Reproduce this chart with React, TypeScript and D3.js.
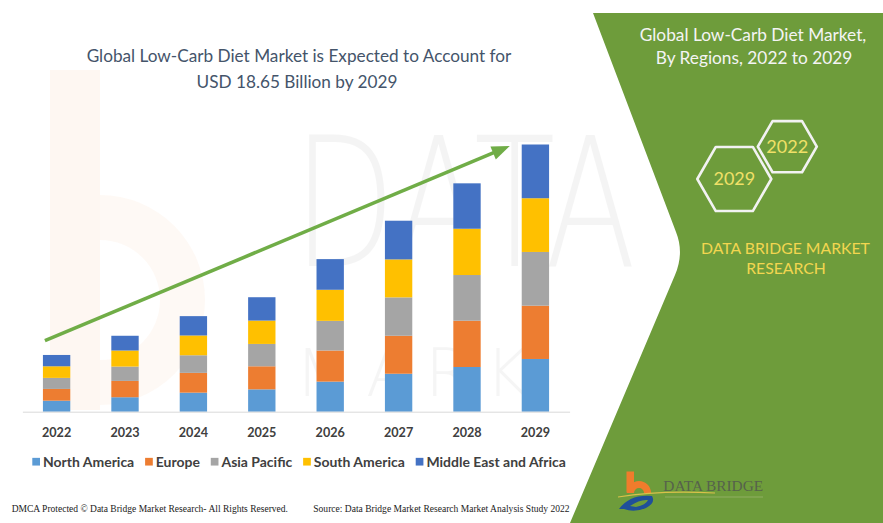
import React, { useEffect, useRef } from "react";
import * as d3 from "d3";

// values in USD billion
const years = ["2022", "2023", "2024", "2025", "2026", "2027", "2028", "2029"];
const northAmerica = [0.77, 1.01, 1.33, 1.56, 2.1, 2.65, 3.12, 3.68];
const europe = [0.82, 1.14, 1.38, 1.61, 2.17, 2.65, 3.23, 3.72];
const asiaPacific = [0.77, 1.0, 1.23, 1.56, 2.07, 2.68, 3.19, 3.75];
const southAmerica = [0.81, 1.12, 1.38, 1.63, 2.17, 2.65, 3.23, 3.75];
const middleEastAfrica = [0.79, 1.03, 1.35, 1.63, 2.14, 2.7, 3.17, 3.75];
const seriesNames = [
  "North America",
  "Europe",
  "Asia Pacific",
  "South America",
  "Middle East and Africa",
];
const seriesColors = ["#5b9bd5", "#ed7d31", "#a5a5a5", "#ffc000", "#4472c4"];
const hexLabels = ["2029", "2022"];

const W = 883;
const H = 523;

const App: React.FC = () => {
  const ref = useRef<SVGSVGElement | null>(null);

  useEffect(() => {
    if (!ref.current) return;
    const svg = d3.select(ref.current);
    svg.selectAll("*").remove();

    const sans = "Lato, 'Open Sans', sans-serif";
    const serif = "'Liberation Serif', 'DejaVu Serif', serif";

    // shrink / grow a text so it spans the given width
    const fit = (t: any, w: number) => {
      const len = (t.node() as SVGTextElement).getComputedTextLength();
      const fs = +t.attr("font-size");
      if (len > 0) t.attr("font-size", (fs * w) / len);
      return t;
    };

    svg.append("rect").attr("width", W).attr("height", H).attr("fill", "#fff");

    // faint watermark
    const wm = svg.append("g").attr("pointer-events", "none");
    wm.append("rect")
      .attr("x", 50)
      .attr("y", 70)
      .attr("width", 50)
      .attr("height", 340)
      .attr("fill", "#f4b183")
      .attr("opacity", 0.1);
    wm.append("path")
      .attr(
        "d",
        d3.arc()({
          innerRadius: 60,
          outerRadius: 105,
          startAngle: 0,
          endAngle: Math.PI,
        } as any) as string
      )
      .attr("transform", "translate(100,300)")
      .attr("fill", "#f4b183")
      .attr("opacity", 0.08);
    wm.append("text")
      .attr("transform", "translate(293,266) scale(0.74,1)")
      .attr("font-family", "'DejaVu Sans', sans-serif")
      .attr("font-weight", 200)
      .attr("font-size", 180)
      .attr("fill", "#000")
      .attr("opacity", 0.04)
      .text("DATA");
    wm.append("text")
      .attr("x", 295)
      .attr("y", 396)
      .attr("font-family", "'DejaVu Sans', sans-serif")
      .attr("font-weight", 200)
      .attr("font-size", 66)
      .attr("letter-spacing", 14)
      .attr("fill", "#000")
      .attr("opacity", 0.035)
      .text("MARK");

    // green panel on the right
    svg
      .append("path")
      .attr(
        "d",
        "M593,13 L883,13 L883,523 L570,523 L675,275 Q684.4,253 676,232 Z"
      )
      .attr("fill", "#6e9c3b");

    // scales
    const rows = years.map((yr, i) => ({
      year: yr,
      "North America": northAmerica[i],
      Europe: europe[i],
      "Asia Pacific": asiaPacific[i],
      "South America": southAmerica[i],
      "Middle East and Africa": middleEastAfrica[i],
    }));
    const totals = rows.map((r) =>
      d3.sum(seriesNames, (k) => (r as any)[k] as number)
    );

    const x = d3
      .scaleBand()
      .domain(years)
      .range([22.4, 569.6])
      .paddingInner(0.6)
      .paddingOuter(0.3);
    const y = d3
      .scaleLinear()
      .domain([0, d3.max(totals)!])
      .range([411.7, 144.5]);
    const color = d3.scaleOrdinal<string>().domain(seriesNames).range(seriesColors);

    const stack = d3.stack<any>().keys(seriesNames)(rows);

    // bars
    svg
      .append("g")
      .selectAll("g")
      .data(stack)
      .join("g")
      .attr("fill", (d) => color(d.key))
      .selectAll("rect")
      .data((d) => d)
      .join("rect")
      .attr("x", (d) => x(d.data.year)!)
      .attr("y", (d) => y(d[1]))
      .attr("width", x.bandwidth())
      .attr("height", (d) => y(d[0]) - y(d[1]));

    // x axis
    const ax = svg
      .append("g")
      .attr("transform", `translate(0,${y(0)})`)
      .call(d3.axisBottom(x).tickSize(0).tickSizeOuter(0));
    ax.select(".domain").attr("stroke", "#d9d9d9");
    ax.selectAll("text")
      .attr("y", 20.6)
      .attr("dy", "0.35em")
      .attr("font-family", sans)
      .attr("font-weight", 700)
      .attr("font-size", 14)
      .attr("fill", "#404040");
    const first = ax.select("text");
    fit(first, 29.3);
    ax.selectAll("text").attr("font-size", first.attr("font-size"));

    // trend arrow
    const p0: [number, number] = [x(years[0])! + 2, y(totals[0]) - 14.3];
    const p1: [number, number] = [
      x(years[years.length - 1])! - 12,
      y(totals[totals.length - 1]) + 1.5,
    ];
    const ang = Math.atan2(p1[1] - p0[1], p1[0] - p0[0]);
    const headL = 18;
    const headW = 7;
    const base: [number, number] = [
      p1[0] - headL * Math.cos(ang),
      p1[1] - headL * Math.sin(ang),
    ];
    svg
      .append("line")
      .attr("x1", p0[0])
      .attr("y1", p0[1])
      .attr("x2", base[0] + 2 * Math.cos(ang))
      .attr("y2", base[1] + 2 * Math.sin(ang))
      .attr("stroke", "#70ad47")
      .attr("stroke-width", 3.5);
    svg
      .append("path")
      .attr(
        "d",
        `M${p1[0]},${p1[1]} L${base[0] + headW * Math.sin(ang)},${
          base[1] - headW * Math.cos(ang)
        } L${base[0] - headW * Math.sin(ang)},${base[1] + headW * Math.cos(ang)} Z`
      )
      .attr("fill", "#70ad47");

    // legend
    const lg = svg.append("g").attr("font-family", sans).attr("font-weight", 700);
    const texts = seriesNames.map((n) =>
      lg
        .append("text")
        .attr("y", 461.7)
        .attr("dy", "0.35em")
        .attr("font-size", 14)
        .attr("fill", "#404040")
        .text(n)
    );
    const lens0 = texts.map((t) => (t.node() as SVGTextElement).getComputedTextLength());
    const k = 437 / d3.sum(lens0);
    texts.forEach((t) => t.attr("font-size", 14 * k));
    const sq = 7.7;
    const sqGap = 3;
    const x0 = 32.3;
    const x1 = 566;
    const lens = lens0.map((l) => l * k);
    const gap = (x1 - x0 - d3.sum(lens) - seriesNames.length * (sq + sqGap)) / (seriesNames.length - 1);
    let cx = x0;
    seriesNames.forEach((n, i) => {
      lg.append("rect")
        .attr("x", cx)
        .attr("y", 461.7 - sq / 2)
        .attr("width", sq)
        .attr("height", sq)
        .attr("fill", color(n));
      texts[i].attr("x", cx + sq + sqGap);
      cx += sq + sqGap + lens[i] + gap;
    });

    // main title
    const t1 = svg
      .append("text")
      .attr("x", 299)
      .attr("y", 55.7)
      .attr("dy", "0.35em")
      .attr("text-anchor", "middle")
      .attr("font-family", sans)
      .attr("font-size", 18)
      .attr("fill", "#44546a")
      .text("Global Low-Carb Diet Market is Expected to Account for");
    fit(t1, 425);
    svg
      .append("text")
      .attr("x", 297)
      .attr("y", 82.3)
      .attr("dy", "0.35em")
      .attr("text-anchor", "middle")
      .attr("font-family", sans)
      .attr("font-size", t1.attr("font-size"))
      .attr("fill", "#44546a")
      .text("USD 18.65 Billion by 2029");

    // right panel texts
    const r1 = svg
      .append("text")
      .attr("x", 753)
      .attr("y", 35)
      .attr("dy", "0.35em")
      .attr("text-anchor", "middle")
      .attr("font-family", sans)
      .attr("font-size", 16)
      .attr("fill", "#f4f4f4")
      .text("Global Low-Carb Diet Market,");
    fit(r1, 226.7);
    svg
      .append("text")
      .attr("x", 754)
      .attr("y", 58)
      .attr("dy", "0.35em")
      .attr("text-anchor", "middle")
      .attr("font-family", sans)
      .attr("font-size", r1.attr("font-size"))
      .attr("fill", "#f4f4f4")
      .text("By Regions, 2022 to 2029");

    // hexagons
    const hexes = [
      { label: hexLabels[0], cx: 734.3, cy: 179, r: 37, w: 41.7 },
      { label: hexLabels[1], cx: 787.3, cy: 146.7, r: 29.5, w: 42 },
    ];
    const hexLine = d3.line();
    hexes.forEach((h) => {
      const pts: [number, number][] = d3
        .range(6)
        .map((i) => [
          h.cx + h.r * Math.cos((i * Math.PI) / 3),
          h.cy + h.r * Math.sin((i * Math.PI) / 3),
        ]);
      svg
        .append("path")
        .attr("d", hexLine(pts) + "Z")
        .attr("fill", "none")
        .attr("stroke", "#f2f2f2")
        .attr("stroke-width", 2.6)
        .attr("stroke-linejoin", "round");
      const ht = svg
        .append("text")
        .attr("x", h.cx)
        .attr("y", h.cy)
        .attr("dy", "0.35em")
        .attr("text-anchor", "middle")
        .attr("font-family", sans)
        .attr("font-size", 17)
        .attr("fill", "#f0e068")
        .text(h.label);
      fit(ht, h.w);
    });

    const d1 = svg
      .append("text")
      .attr("x", 785.5)
      .attr("y", 248)
      .attr("dy", "0.35em")
      .attr("text-anchor", "middle")
      .attr("font-family", sans)
      .attr("font-size", 16)
      .attr("fill", "#f2d650")
      .text("DATA BRIDGE MARKET");
    fit(d1, 169);
    svg
      .append("text")
      .attr("x", 786)
      .attr("y", 268)
      .attr("dy", "0.35em")
      .attr("text-anchor", "middle")
      .attr("font-family", sans)
      .attr("font-size", d1.attr("font-size"))
      .attr("fill", "#f2d650")
      .text("RESEARCH");

    // logo bottom right
    const logo = svg.append("g");
    logo.append("rect")
      .attr("x", 626.5)
      .attr("y", 471.5)
      .attr("width", 7.5)
      .attr("height", 21)
      .attr("fill", "#f07c2c");
    logo.append("path")
      .attr(
        "d",
        d3.arc()({
          innerRadius: 5,
          outerRadius: 12,
          startAngle: -Math.PI / 2,
          endAngle: Math.PI / 2,
        } as any) as string
      )
      .attr("transform", "translate(639,493)")
      .attr("fill", "#f07c2c");
    logo.append("path")
      .attr("d", "M619,509 Q630,494 652,496 Q656,503 646,508 Q634,513 624,509 Z M630,506 Q640,499 648,500 Q646,505 636,507 Z")
      .attr("fill", "#1f4f9a")
      .attr("fill-rule", "evenodd");
    logo.append("path")
      .attr("d", "M618,497 Q660,490 715,493")
      .attr("fill", "none")
      .attr("stroke", "#d9c04a")
      .attr("stroke-width", 1.2);
    const lt = logo
      .append("text")
      .attr("x", 663.3)
      .attr("y", 491)
      .attr("font-family", serif)
      .attr("font-size", 17)
      .attr("fill", "#56624c")
      .text("DATA BRIDGE");
    fit(lt, 100);
    logo.append("rect")
      .attr("x", 665)
      .attr("y", 496)
      .attr("width", 98)
      .attr("height", 2)
      .attr("fill", "#8aab5c")
      .attr("opacity", 0.6);

    // footer
    const f1 = svg
      .append("text")
      .attr("x", 11.7)
      .attr("y", 509)
      .attr("dy", "0.35em")
      .attr("font-family", serif)
      .attr("font-size", 10)
      .attr("fill", "#222")
      .text("DMCA Protected © Data Bridge Market Research- All Rights Reserved.");
    fit(f1, 276.6);
    const f2 = svg
      .append("text")
      .attr("x", 313.3)
      .attr("y", 509)
      .attr("dy", "0.35em")
      .attr("font-family", serif)
      .attr("font-size", 10)
      .attr("fill", "#222")
      .text("Source: Data Bridge Market Research Market Analysis Study 2022");
    fit(f2, 256.7);
  }, []);

  return (
    <svg
      ref={ref}
      width={W}
      height={H}
      style={{ position: "absolute", left: 0, top: 0, display: "block" }}
    ></svg>
  );
};

export default App;
